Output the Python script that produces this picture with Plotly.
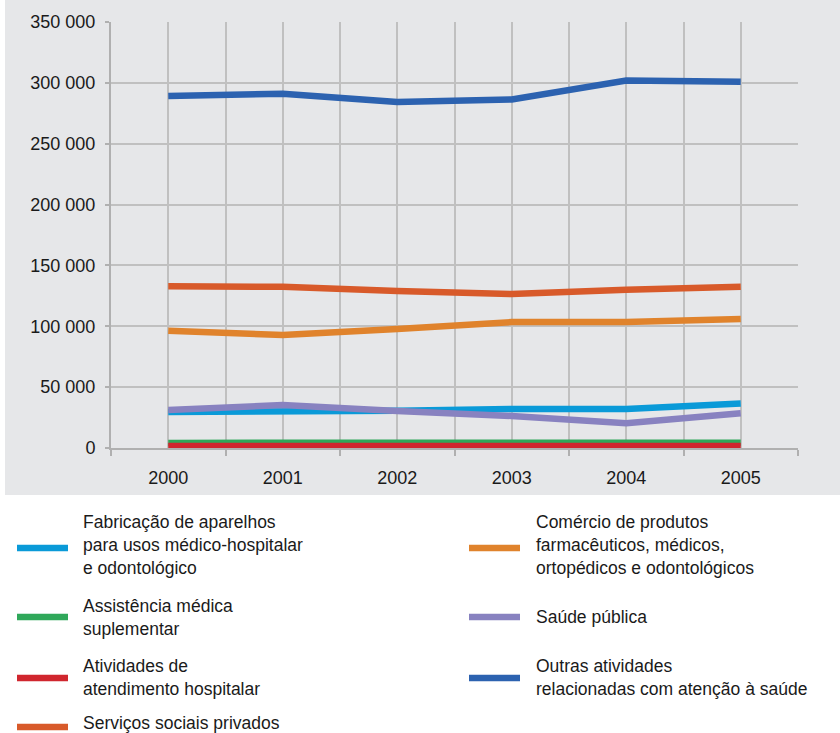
import plotly.graph_objects as go

years = ["2000", "2001", "2002", "2003", "2004", "2005"]

fabricacao = [29500, 29500, 30600, 32000, 32000, 36600]
assistencia = [4200, 4200, 4200, 4300, 4300, 4300]
atividades = [1600, 1600, 1600, 1700, 1600, 1600]
servicos = [132800, 132500, 129000, 126500, 130000, 132500]
comercio = [96400, 92800, 97800, 103500, 103500, 106000]
saude = [31200, 35300, 30400, 26300, 20300, 28500]
outras = [289200, 291000, 284300, 286300, 302000, 301000]

names = [
    "Fabricação de aparelhos<br>para usos médico-hospitalar<br>e odontológico",
    "Assistência médica<br>suplementar",
    "Atividades de<br>atendimento hospitalar",
    "Serviços sociais privados",
    "Comércio de produtos<br>farmacêuticos, médicos,<br>ortopédicos e odontológicos",
    "Saúde pública",
    "Outras atividades<br>relacionadas com atenção à saúde",
]
series = [fabricacao, assistencia, atividades, servicos, comercio, saude, outras]
colors = ["#0a9ad8", "#2fa85a", "#d0262e", "#d85a2a", "#e0832c", "#8882c0", "#2c62b0"]

# drawing order (bottom to top)
draw_order = [6, 3, 4, 0, 5, 1, 2]

W, H = 840, 733
L, R, T, B = 111, 798, 22, 448

def px(x):
    return (x - L) / (R - L)

def py(y):
    return (B - y) / (B - T)

fig = go.Figure()
xs = list(range(len(years)))
for i in draw_order:
    fig.add_trace(go.Scatter(
        x=xs, y=series[i], mode="lines",
        line=dict(color=colors[i], width=6.5),
        name=names[i].replace("<br>", " "), showlegend=False,
        hoverinfo="x+y",
    ))

FONT = "Liberation Sans, Arial, sans-serif"
shapes = [
    dict(type="rect", xref="paper", yref="paper", x0=px(5), x1=px(845),
         y0=py(495), y1=py(-5), fillcolor="#e6e7e9", line=dict(width=0), layer="below"),
]
annotations = []
# legend layout: (swatch x, text x, swatch y center, text y center)
leg = [
    (17, 81, 548, 545),
    (17, 81, 617, 617),
    (17, 81, 678, 677),
    (17, 81, 727, 723),
    (469, 534, 548, 545),
    (469, 534, 617, 617),
    (469, 534, 678, 677),
]
for i, (sx, tx, sy, ty) in enumerate(leg):
    shapes.append(dict(type="rect", xref="paper", yref="paper",
                       x0=px(sx), x1=px(sx + 51), y0=py(sy + 3.3), y1=py(sy - 3.3),
                       fillcolor=colors[i], line=dict(width=0)))
    annotations.append(dict(xref="paper", yref="paper", x=px(tx), y=py(ty),
                            xanchor="left", yanchor="middle", align="left",
                            text=names[i], showarrow=False,
                            font=dict(family=FONT, size=17.5, color="#1a1a1a")))

fig.update_layout(
    width=W, height=H,
    margin=dict(l=L, r=W - R, t=T, b=H - B, pad=0),
    paper_bgcolor="white", plot_bgcolor="white",
    separators=". ",
    font=dict(family=FONT, size=18, color="#1a1a1a"),
    shapes=shapes, annotations=annotations,
    showlegend=False,
)
fig.update_xaxes(
    range=[-0.5, 5.5], tickvals=xs, ticktext=years, ticks="",
    showgrid=True, gridcolor="#c0c0c0", gridwidth=2,
    showline=True, linecolor="#b0b0b0", linewidth=2,
    ticklabelstandoff=12,
    minor=dict(tickvals=[v - 0.5 for v in range(7)], ticks="outside", ticklen=6,
               tickcolor="#b0b0b0", tickwidth=2, showgrid=True,
               gridcolor="#c0c0c0", gridwidth=2),
    tickfont=dict(size=18),
    zeroline=False, fixedrange=True,
)
fig.update_yaxes(
    range=[0, 350000], tickvals=list(range(0, 350001, 50000)), tickformat=",d",
    ticks="outside", ticklen=4, tickcolor="#b0b0b0", tickwidth=2,
    showgrid=True, gridcolor="#c0c0c0", gridwidth=2,
    showline=True, linecolor="#b0b0b0", linewidth=2,
    ticklabelstandoff=6,
    tickfont=dict(size=18),
    zeroline=False, fixedrange=True,
)

fig.write_html("out.html", config={"displayModeBar": False},
               post_script="document.body.style.margin='0';document.body.style.overflow='hidden';")
